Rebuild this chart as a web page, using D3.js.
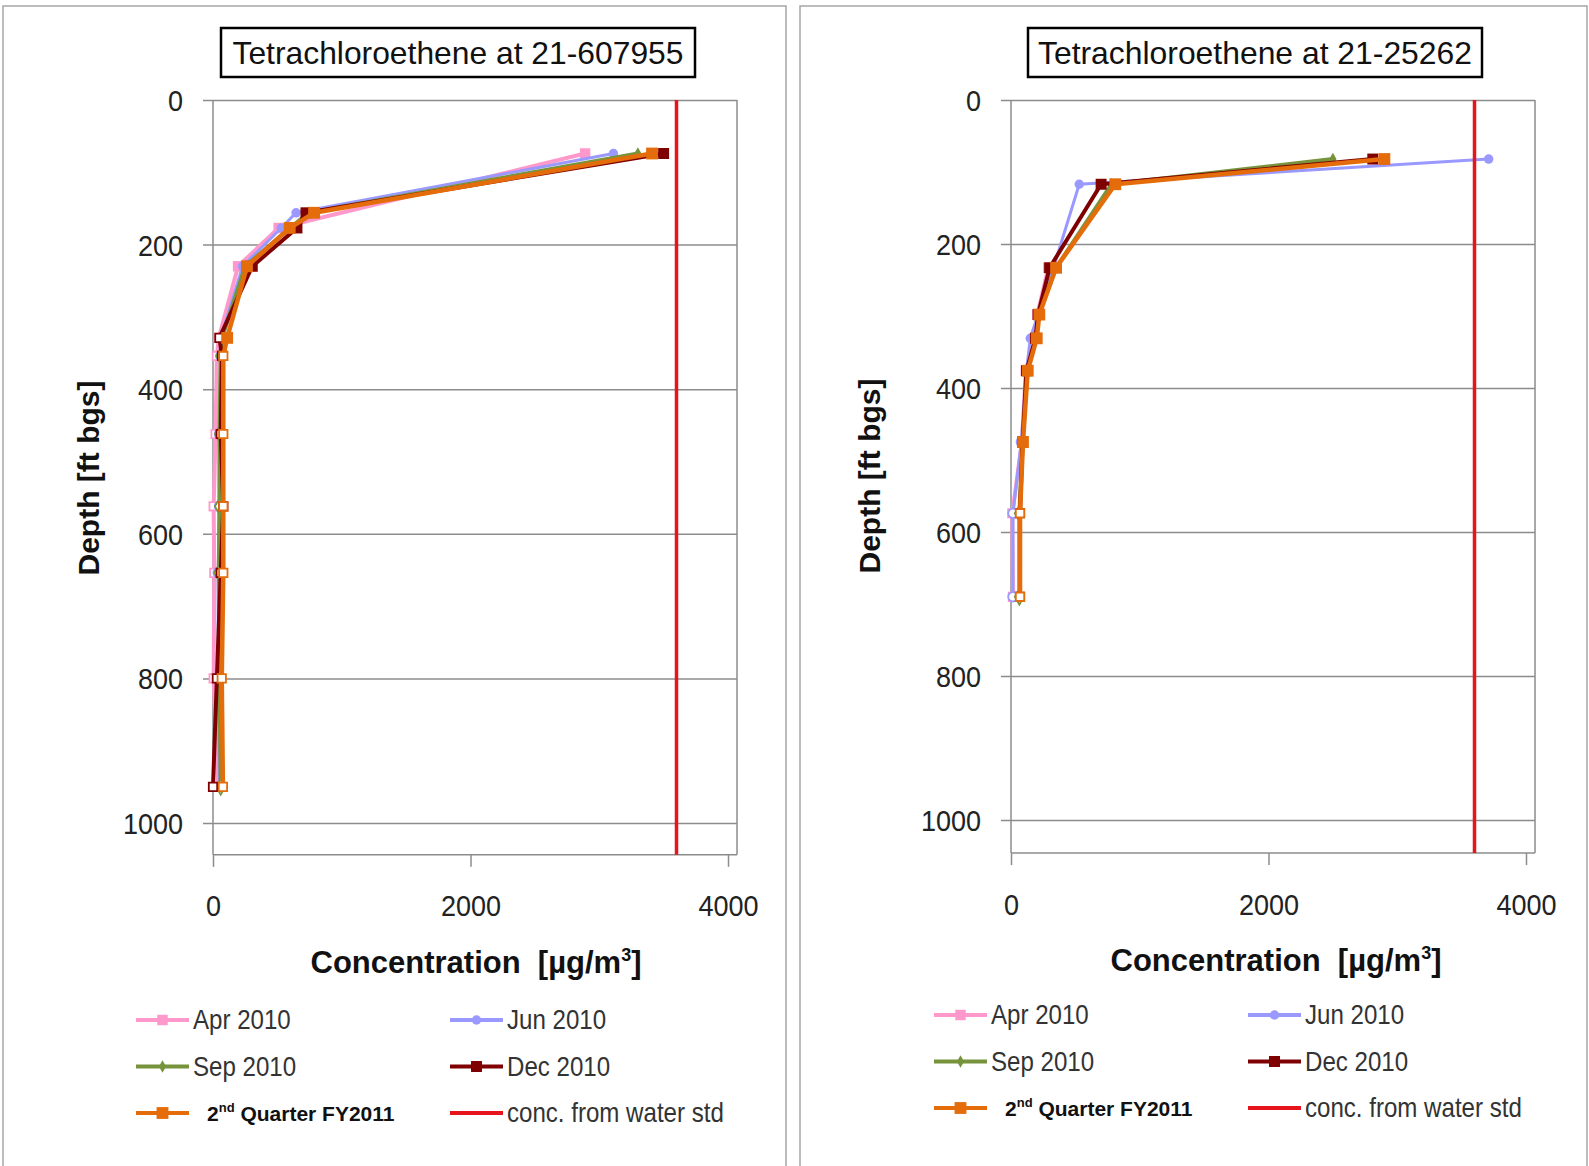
<!DOCTYPE html>
<html lang="en">
<meta charset="UTF-8">
<script src="https://d3js.org/d3.v7.min.js"></script>
<style>
  body { margin:0; background:#fff; }
  .narrow { font-family:"Liberation Sans",Arial,sans-serif; }
  .bold { font-family:"Liberation Sans",Arial,sans-serif; font-weight:bold; }
</style>
<body>
<div id="chart"></div>
<script>
// series names and colours (legend order)
const seriesNames = ["Apr 2010", "Jun 2010", "Sep 2010", "Dec 2010", "2nd Quarter FY2011"];
const seriesColors = ["#ff99cc", "#9999ff", "#77933c", "#7f0000", "#e46c0a"];
const stdName = "conc. from water std";
const waterStd = 3600;

const xTicks = [0, 2000, 4000];
const yTicks = [0, 200, 400, 600, 800, 1000];

// well 21-607955 : depth [ft bgs] and concentration per sampling round
const leftDepths = [74, 156, 177, 230, 329, 354, 462, 562, 654, 800, 950];
const leftApr = [2890, null, 510, 195, 45, 30, 20, 5, 10, 5, 40];
const leftJun = [3110, 645, 530, 230, 60, 60, 50, 50, 40, 40, 50];
const leftSep = [3300, 740, 600, 250, 70, 60, 50, 50, 45, 50, 60];
const leftDec = [3500, 722, 652, 305, 50, 70, 60, 80, 60, 30, 0];
const leftQ2 = [3410, 785, 596, 264, 110, 80, 80, 80, 80, 68, 77];

// well 21-25262
const rightDepths = [82, 117, 233, 298, 331, 376, 475, 574, 690];
const rightApr = [null, null, 290, 205, 185, 115, 85, 10, 15];
const rightJun = [3710, 530, 330, 210, 150, 120, 80, 15, 15];
const rightSep = [2500, 780, 350, 215, 195, 125, 90, 65, 65];
const rightDec = [2810, 700, 300, 210, 190, 120, 90, 70, 70];
const rightQ2 = [2900, 810, 350, 220, 200, 130, 93, 70, 70];

const width = 1589, height = 1166;
const svg = d3.select("#chart").append("svg")
  .attr("width", width).attr("height", height);

const symbols = [d3.symbolSquare, d3.symbolCircle, d3.symbolDiamond, d3.symbolSquare, d3.symbolSquare];
const symSizes = [110, 70, 45, 120, 140];
const lineWidths = [4, 3, 4, 4, 4.5];

// squeeze text to a Calibri-like width
function condense(sel, f) {
  sel.each(function() {
    const w = this.getComputedTextLength();
    d3.select(this).attr("textLength", w * f).attr("lengthAdjust", "spacingAndGlyphs");
  });
}

function drawPanel(p) {
  const g = svg.append("g");
  const x = d3.scaleLinear().domain([0, 4000]).range([p.x0, p.x1]);
  const y = d3.scaleLinear().domain([0, 1000]).range([100, p.y1]);
  const boxRight = x(4070), boxBottom = y(p.yEnd);

  // panel frame
  g.append("rect")
    .attr("x", p.frameX).attr("y", 6).attr("width", p.frameW).attr("height", 1200)
    .attr("fill", "none").attr("stroke", "#a6a6a6").attr("stroke-width", 1.5);

  // title box
  g.append("rect")
    .attr("x", p.titleX).attr("y", 28).attr("width", p.titleW).attr("height", 49)
    .attr("fill", "#fff").attr("stroke", "#000").attr("stroke-width", 2.5);
  g.append("text").attr("class", "narrow")
    .attr("x", p.titleX + p.titleW / 2).attr("y", 64)
    .attr("text-anchor", "middle").attr("font-size", 32).attr("fill", "#111")
    .attr("textLength", p.titleLen).attr("lengthAdjust", "spacingAndGlyphs")
    .text(p.title);

  // y axis with gridlines
  const yAxis = g.append("g").attr("transform", `translate(${p.x0},0)`)
    .call(d3.axisLeft(y).tickValues(yTicks).tickSize(-(boxRight - p.x0)).tickFormat(d3.format("d")));
  yAxis.select(".domain").remove();
  yAxis.selectAll(".tick line").attr("x1", -10).attr("stroke", "#8c8c8c").attr("stroke-width", 1.5);
  yAxis.selectAll(".tick text").attr("class", "narrow").attr("x", -30).attr("dy", "0.35em")
    .attr("font-size", 30).attr("fill", "#222").attr("text-anchor", "end")
    .call(condense, 0.9);

  // box edges
  g.append("line").attr("x1", p.x0).attr("x2", p.x0).attr("y1", 100).attr("y2", boxBottom)
    .attr("stroke", "#8c8c8c").attr("stroke-width", 1.5);
  g.append("line").attr("x1", boxRight).attr("x2", boxRight).attr("y1", 100).attr("y2", boxBottom)
    .attr("stroke", "#8c8c8c").attr("stroke-width", 1.5);

  // x axis at bottom
  const xAxis = g.append("g").attr("transform", `translate(0,${boxBottom})`)
    .call(d3.axisBottom(x).tickValues(xTicks).tickSize(12).tickFormat(d3.format("d")));
  xAxis.select(".domain").remove();
  g.append("line").attr("x1", p.x0).attr("x2", boxRight).attr("y1", boxBottom).attr("y2", boxBottom)
    .attr("stroke", "#8c8c8c").attr("stroke-width", 1.5);
  xAxis.selectAll(".tick line").attr("stroke", "#8c8c8c").attr("stroke-width", 1.5);
  xAxis.selectAll(".tick text").attr("class", "narrow").attr("y", 51).attr("dy", "0.35em")
    .attr("font-size", 30).attr("fill", "#222")
    .call(condense, 0.9);

  // axis titles
  const xt = g.append("text").attr("class", "bold")
    .attr("x", p.xTitleX).attr("y", boxBottom + 118).attr("text-anchor", "middle")
    .attr("font-size", 31).attr("fill", "#111");
  xt.append("tspan").text("Concentration\u00a0\u00a0[\u00b5g/m");
  xt.append("tspan").attr("font-size", 18).attr("dy", -12).text("3");
  xt.append("tspan").attr("dy", 12).text("]");
  g.append("text").attr("class", "bold")
    .attr("transform", `translate(${p.yTitleX},${p.yTitleY}) rotate(-90)`)
    .attr("text-anchor", "middle").attr("font-size", 30).attr("fill", "#111")
    .text("Depth [ft bgs]");

  // series
  p.series.forEach((vals, i) => {
    const pts = p.depths.map((d, k) => ({ depth: d, conc: vals[k] })).filter(d => d.conc != null);
    const line = d3.line().x(d => x(d.conc)).y(d => y(d.depth));
    g.append("path").datum(pts).attr("d", line)
      .attr("fill", "none").attr("stroke", seriesColors[i])
      .attr("stroke-width", lineWidths[i]).attr("stroke-linejoin", "round");
    g.selectAll(null).data(pts).join("path")
      .attr("transform", d => `translate(${x(d.conc)},${y(d.depth)})`)
      .attr("d", d => d3.symbol(symbols[i], d.conc < 90 ? 70 : symSizes[i])())
      .attr("fill", d => d.conc < 90 ? "#fff" : seriesColors[i])
      .attr("stroke", seriesColors[i])
      .attr("stroke-width", d => d.conc < 90 ? 1.8 : 0);
  });

  // water standard line
  g.append("line").attr("x1", x(waterStd)).attr("x2", x(waterStd))
    .attr("y1", 100).attr("y2", boxBottom)
    .attr("stroke", "#e8141b").attr("stroke-width", 3.5);

  // legend
  const cols = [p.x0 - 77, p.x0 + 237];
  const rows = [p.legTop, p.legTop + 46.5, p.legTop + 93];
  const entries = seriesNames.map((n, i) => ({ name: n, i: i })).concat([{ name: stdName, i: -1 }]);
  entries.forEach((e, k) => {
    const cx = cols[k % 2], cy = rows[Math.floor(k / 2)];
    const color = e.i < 0 ? "#e8141b" : seriesColors[e.i];
    g.append("line").attr("x1", cx).attr("x2", cx + 53).attr("y1", cy).attr("y2", cy)
      .attr("stroke", color).attr("stroke-width", 4);
    if (e.i >= 0) {
      g.append("path").attr("transform", `translate(${cx + 26.5},${cy})`)
        .attr("d", d3.symbol(symbols[e.i], symSizes[e.i])()).attr("fill", color);
    }
    if (e.i === 4) {
      const t = g.append("text").attr("class", "bold").attr("x", cx + 71).attr("y", cy + 8)
        .attr("font-size", 21).attr("fill", "#111");
      t.append("tspan").text("2");
      t.append("tspan").attr("font-size", 13).attr("dy", -9).text("nd");
      t.append("tspan").attr("dy", 9).text(" Quarter FY2011");
    } else {
      g.append("text").attr("class", "narrow").attr("x", cx + 57).attr("y", cy + 9)
        .attr("font-size", 28).attr("fill", "#333").text(e.name)
        .call(condense, 0.86);
    }
  });
}

drawPanel({
  frameX: 3, frameW: 783,
  titleX: 221, titleW: 474, titleLen: 451, title: "Tetrachloroethene at 21-607955",
  x0: 213, x1: 728, y1: 823, yEnd: 1044,
  xTitleX: 476, yTitleX: 99, yTitleY: 478, legTop: 1020,
  depths: leftDepths,
  series: [leftApr, leftJun, leftSep, leftDec, leftQ2]
});

drawPanel({
  frameX: 800, frameW: 787,
  titleX: 1028, titleW: 454, titleLen: 434, title: "Tetrachloroethene at 21-25262",
  x0: 1011, x1: 1526, y1: 820, yEnd: 1046,
  xTitleX: 1276, yTitleX: 880, yTitleY: 476, legTop: 1015,
  depths: rightDepths,
  series: [rightApr, rightJun, rightSep, rightDec, rightQ2]
});
</script>
</body>
</html>
